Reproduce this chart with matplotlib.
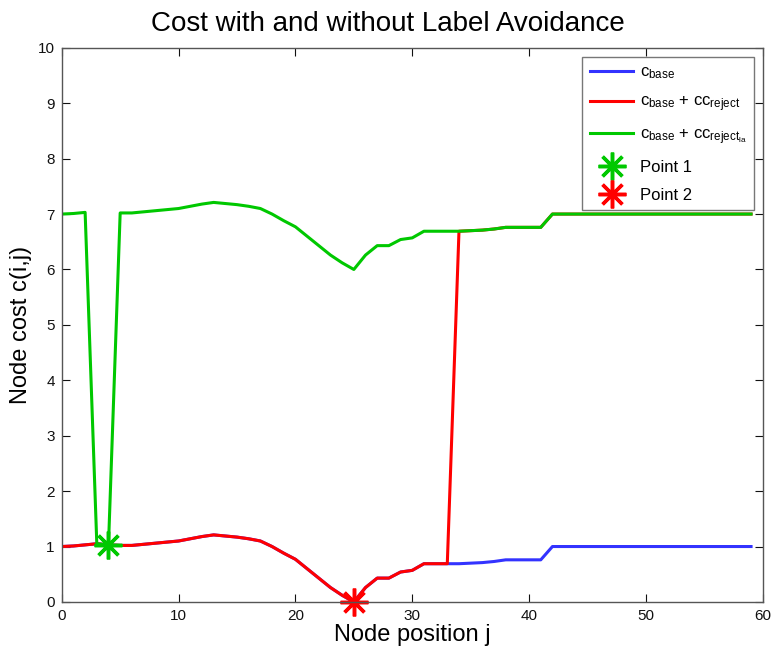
import matplotlib.pyplot as plt

# node cost along the path, one value per node position j = 0..59
node_pos = list(range(60))
c_base = [1.00, 1.01, 1.03, 1.05, 1.03, 1.02, 1.02, 1.04, 1.06, 1.08,
          1.10, 1.14, 1.18, 1.21, 1.19, 1.17, 1.14, 1.10, 1.00, 0.88,
          0.77, 0.60, 0.43, 0.26, 0.12, 0.00, 0.26, 0.43, 0.43, 0.54,
          0.57, 0.69, 0.69, 0.69, 0.69, 0.70, 0.71, 0.73, 0.76, 0.76,
          0.76, 0.76, 1.00, 1.00, 1.00, 1.00, 1.00, 1.00, 1.00, 1.00,
          1.00, 1.00, 1.00, 1.00, 1.00, 1.00, 1.00, 1.00, 1.00, 1.00]
# rejection cost without and with label avoidance
cc_reject = [0] * 34 + [6] * 26
cc_reject_la = [6, 6, 6, 0, 0] + [6] * 55

point1 = (4, 1.03)
point2 = (25, 0.0)

BLUE = "#3333ff"
RED = "#ff0000"
GREEN = "#00c800"

plt.rcParams["font.family"] = ["Liberation Sans", "DejaVu Sans"]
plt.rcParams["mathtext.fontset"] = "custom"
plt.rcParams["mathtext.rm"] = "Liberation Sans"
plt.rcParams["mathtext.it"] = "Liberation Sans"

fig = plt.figure(figsize=(7.72, 6.55), dpi=100)
ax = fig.add_axes([0.080, 0.081, 0.908, 0.846])

red_vals = [b + r for b, r in zip(c_base, cc_reject)]
green_vals = [b + r for b, r in zip(c_base, cc_reject_la)]

lw = 2.2
ax.plot(node_pos, c_base, color=BLUE, lw=lw, label=r"$\mathregular{c_{base}}$")
ax.plot(node_pos, red_vals, color=RED, lw=lw,
        label=r"$\mathregular{c_{base}}$ + $\mathregular{cc_{reject}}$")
ax.plot(node_pos, green_vals, color=GREEN, lw=lw,
        label=r"$\mathregular{c_{base}}$ + $\mathregular{cc_{reject_{la}}}$")

star = (8, 2, 0)
ax.plot(*point1, ls="none", marker=star, ms=20, mew=2.5, color=GREEN, label="Point 1")
ax.plot(*point2, ls="none", marker=star, ms=20, mew=2.5, color=RED, label="Point 2",
        clip_on=False)

ax.set_xlim(0, 60)
ax.set_ylim(0, 10)
ax.set_xticks(range(0, 61, 10))
ax.set_yticks(range(0, 11))
ax.tick_params(direction="in", top=True, right=True, length=6, width=0.8,
               labelsize=11, colors="#111111", pad=5)
for s in ax.spines.values():
    s.set_color("#555555")
    s.set_linewidth(1.0)

ax.set_title("Cost with and without Label Avoidance", fontsize=20, pad=12, x=0.465)
ax.set_xlabel("Node position j", fontsize=17, labelpad=1)
ax.set_ylabel("Node cost c(i,j)", fontsize=17, labelpad=4)

leg = ax.legend(loc="upper right", bbox_to_anchor=(0.988, 0.983), fontsize=12,
                handlelength=2.6, handletextpad=0.4, labelspacing=0.78,
                borderpad=0.45, borderaxespad=0.0,
                fancybox=False, framealpha=1, edgecolor="#777777")
leg.get_frame().set_linewidth(1.0)
# the curves run along the bottom edge of the legend box
leg.set_zorder(1.5)

fig.savefig("out.png", dpi=100)
